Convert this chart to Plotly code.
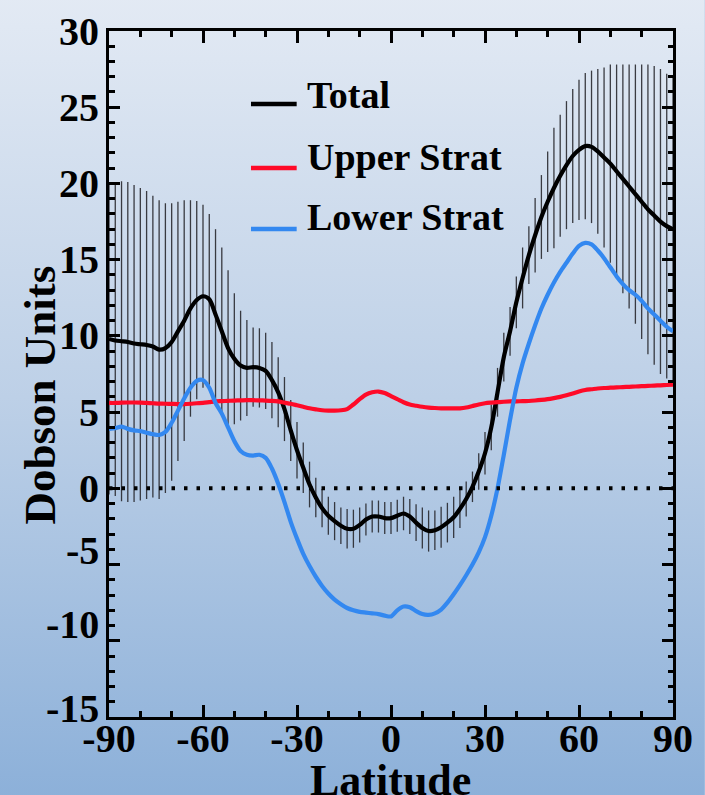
import base64
import plotly.graph_objects as go

# Latitude grid (degrees), 2-degree spacing
lat = list(range(-90, 91, 2))

# Column ozone change (Dobson Units)
total = [9.8, 9.7, 9.65, 9.6, 9.5, 9.45, 9.4, 9.3, 9.1, 9.2, 9.6, 10.3, 11.0, 11.8, 12.35, 12.6,
         12.4, 11.4, 10.3, 9.2, 8.5, 8.05, 7.9, 7.95, 7.9, 7.7, 7.1, 6.3, 5.2, 3.8, 2.5, 1.35,
         0.25, -0.6, -1.3, -1.8, -2.15, -2.45, -2.65, -2.65, -2.4, -2.05, -1.85, -1.85, -1.95, -1.95,
         -1.8, -1.65, -1.85, -2.25, -2.6, -2.8, -2.75, -2.55, -2.25, -1.9, -1.35, -0.7, 0.1, 1.1,
         2.3, 4.0, 6.3, 8.6, 10.3, 12.2, 13.8, 15.3, 16.6, 17.8, 18.8, 19.7, 20.5, 21.2, 21.8,
         22.2, 22.45, 22.4, 22.1, 21.7, 21.3, 20.8, 20.3, 19.8, 19.3, 18.8, 18.3, 17.9, 17.5, 17.2, 17.0]

total_err = [10.2, 10.2, 10.5, 10.5, 10.4, 10.25, 10.1, 9.9, 9.8, 9.5, 9.1, 8.5, 7.9, 7.1, 6.5, 6.0,
             5.6, 5.6, 5.5, 5.1, 4.3, 3.6, 3.15, 2.6, 2.6, 2.5, 2.5, 2.3, 2.1, 2.0, 1.85, 1.65,
             1.5, 1.3, 1.25, 1.25, 1.25, 1.2, 1.3, 1.25, 1.15, 1.05, 1.05, 1.05, 1.05, 1.05,
             1.05, 1.1, 1.15, 1.2, 1.35, 1.35, 1.3, 1.35, 1.3, 1.35, 1.25, 1.15, 1.0, 1.2,
             1.4, 1.5, 1.6, 1.6, 1.6, 1.7, 2.0, 1.9, 2.45, 2.75, 3.3, 3.95, 4.0, 4.2, 4.4,
             4.6, 4.8, 5.0, 5.4, 5.9, 6.5, 7.0, 7.5, 8.0, 8.5, 9.0, 9.5, 9.8, 10.0, 10.0, 10.0]

upper_strat = [5.6, 5.6, 5.62, 5.63, 5.63, 5.62, 5.6, 5.58, 5.56, 5.55, 5.54, 5.53, 5.53, 5.55, 5.58, 5.6,
               5.65, 5.7, 5.72, 5.74, 5.76, 5.77, 5.78, 5.78, 5.77, 5.76, 5.74, 5.7, 5.62, 5.55, 5.45, 5.35,
               5.25, 5.18, 5.12, 5.1, 5.1, 5.12, 5.2, 5.5, 5.85, 6.15, 6.3, 6.35, 6.25, 6.05,
               5.85, 5.65, 5.5, 5.42, 5.35, 5.3, 5.27, 5.25, 5.25, 5.24, 5.25, 5.3, 5.4, 5.5,
               5.58, 5.62, 5.65, 5.68, 5.7, 5.7, 5.72, 5.73, 5.76, 5.8, 5.85, 5.92, 6.0, 6.1, 6.22,
               6.35, 6.45, 6.5, 6.55, 6.58, 6.6, 6.62, 6.64, 6.66, 6.68, 6.7, 6.72, 6.74, 6.76, 6.78, 6.8]

lower_strat = [3.9, 3.95, 4.05, 3.9, 3.8, 3.75, 3.65, 3.55, 3.5, 3.7, 4.3, 5.1, 5.9, 6.6, 7.05, 7.1,
               6.6, 5.6, 4.9, 4.0, 3.1, 2.45, 2.2, 2.15, 2.2, 2.0, 1.3, 0.3, -0.9, -2.2, -3.3, -4.3,
               -5.1, -5.8, -6.4, -6.9, -7.3, -7.6, -7.85, -8.0, -8.1, -8.15, -8.2, -8.25, -8.35, -8.4,
               -8.0, -7.75, -7.8, -8.05, -8.25, -8.3, -8.2, -7.95, -7.5, -6.95, -6.35, -5.7, -5.0, -4.2,
               -3.2, -1.8, 0.0, 2.2, 4.5, 6.6, 8.2, 9.5, 10.7, 11.8, 12.7, 13.5, 14.2, 14.8, 15.4,
               15.9, 16.1, 16.0, 15.6, 15.1, 14.5, 13.9, 13.4, 13.0, 12.7, 12.3, 11.8, 11.4, 11.0, 10.6, 10.3]

series_names = ["Total", "Upper Strat", "Lower Strat"]
series_colors = ["#000000", "#ff0a28", "#3388f0"]

x_ticks = [-90, -60, -30, 0, 30, 60, 90]
y_ticks = [-15, -10, -5, 0, 5, 10, 15, 20, 25, 30]
# negative y labels sit a little above their tick marks
y_label_lift = {-15: 9, -10: 16, -5: 14}

W, H = 705, 795
ML, MR, MT, MB = 109, 28, 31, 78
PW, PH = W - ML - MR, H - MT - MB

def px(x):
    return (x - ML) / PW

def py(y):
    return (H - MB - y) / PH

FONT = "Liberation Serif"
tickfont = dict(family=FONT, size=40, color="black", weight="bold")

fig = go.Figure()

# Standard deviation bars on the total column
fig.add_trace(go.Scatter(
    x=lat, y=total, mode="markers",
    marker=dict(size=1, opacity=0),
    error_y=dict(type="data", array=total_err, visible=True, width=0,
                 thickness=1.3, color="rgba(40,40,45,0.9)"),
    showlegend=False, hoverinfo="skip",
))

for name, vals, col in zip(series_names, [total, upper_strat, lower_strat], series_colors):
    fig.add_trace(go.Scatter(
        x=lat, y=vals, mode="lines", name=name,
        line=dict(color=col, width=4.2, shape="spline", smoothing=0.8),
        showlegend=False,
    ))

# Zero reference line
fig.add_shape(type="line", xref="x", yref="y", x0=-90, x1=90, y0=0, y1=0,
              line=dict(color="black", width=4, dash="3.5px,9px"), layer="above")

# Vertical blue gradient behind the whole figure
svg = (
    '<svg xmlns="http://www.w3.org/2000/svg" width="10" height="100" preserveAspectRatio="none">'
    '<defs><linearGradient id="g" x1="0" y1="0" x2="0" y2="1">'
    '<stop offset="0" stop-color="#e3eaf4"/>'
    '<stop offset="0.5" stop-color="#bdd0e7"/>'
    '<stop offset="1" stop-color="#8cb0d9"/>'
    '</linearGradient></defs>'
    '<rect width="10" height="100" fill="url(#g)"/></svg>'
)
src = "data:image/svg+xml;base64," + base64.b64encode(svg.encode()).decode()
fig.add_layout_image(dict(source=src, xref="paper", yref="paper",
                          x=px(-4), y=py(-4), sizex=(W + 8) / PW, sizey=(H + 8) / PH,
                          xanchor="left", yanchor="top", sizing="stretch", layer="below"))

# Legend drawn as short line samples with labels
legend_y = [104, 168, 229]
legend_text_y = [95, 157, 217]
for name, col, ly, ty in zip(series_names, series_colors, legend_y, legend_text_y):
    fig.add_shape(type="line", xref="paper", yref="paper",
                  x0=px(252), x1=px(298), y0=py(ly), y1=py(ly),
                  line=dict(color=col, width=4.5))
    fig.add_annotation(xref="paper", yref="paper", x=px(306), y=py(ty),
                       xanchor="left", yanchor="middle", showarrow=False, text=name,
                       font=dict(family=FONT, size=38, color="black", weight="bold"))

# Y tick labels
for v in y_ticks:
    fig.add_annotation(xref="paper", yref="y", x=px(101), y=v, yshift=y_label_lift.get(v, 0),
                       xanchor="right", yanchor="middle", showarrow=False, text=str(v),
                       font=tickfont)

# Axis titles
fig.add_annotation(xref="paper", yref="paper", x=px(40), y=py(395), textangle=-90,
                   xanchor="center", yanchor="middle", showarrow=False, text="Dobson Units",
                   font=dict(family=FONT, size=45, color="black", weight="bold"))
fig.add_annotation(xref="paper", yref="paper", x=px(392), y=py(780),
                   xanchor="center", yanchor="middle", showarrow=False, text="Latitude",
                   font=dict(family=FONT, size=44, color="black", weight="bold"))

fig.update_xaxes(range=[-90, 90], tickvals=x_ticks, ticktext=[str(v) for v in x_ticks],
                 ticks="inside", ticklen=12, tickwidth=2.7, tickcolor="black",
                 minor=dict(dtick=10, ticks="inside", ticklen=6, tickwidth=2.5, tickcolor="black"),
                 showline=True, linewidth=3, linecolor="black", mirror="ticks",
                 showgrid=False, zeroline=False, tickfont=tickfont, ticklabelstandoff=-16)
fig.update_yaxes(range=[-15, 30], tickvals=y_ticks, showticklabels=False,
                 ticks="inside", ticklen=11, tickwidth=2.7, tickcolor="black",
                 minor=dict(dtick=1, ticks="inside", ticklen=5.5, tickwidth=2.5, tickcolor="black"),
                 showline=True, linewidth=3, linecolor="black", mirror="ticks",
                 showgrid=False, zeroline=False)

fig.update_layout(
    width=W, height=H, autosize=False,
    margin=dict(l=ML, r=MR, t=MT, b=MB),
    paper_bgcolor="#b8cde5", plot_bgcolor="rgba(0,0,0,0)",
    showlegend=False,
)

fig.write_html("out.html")
